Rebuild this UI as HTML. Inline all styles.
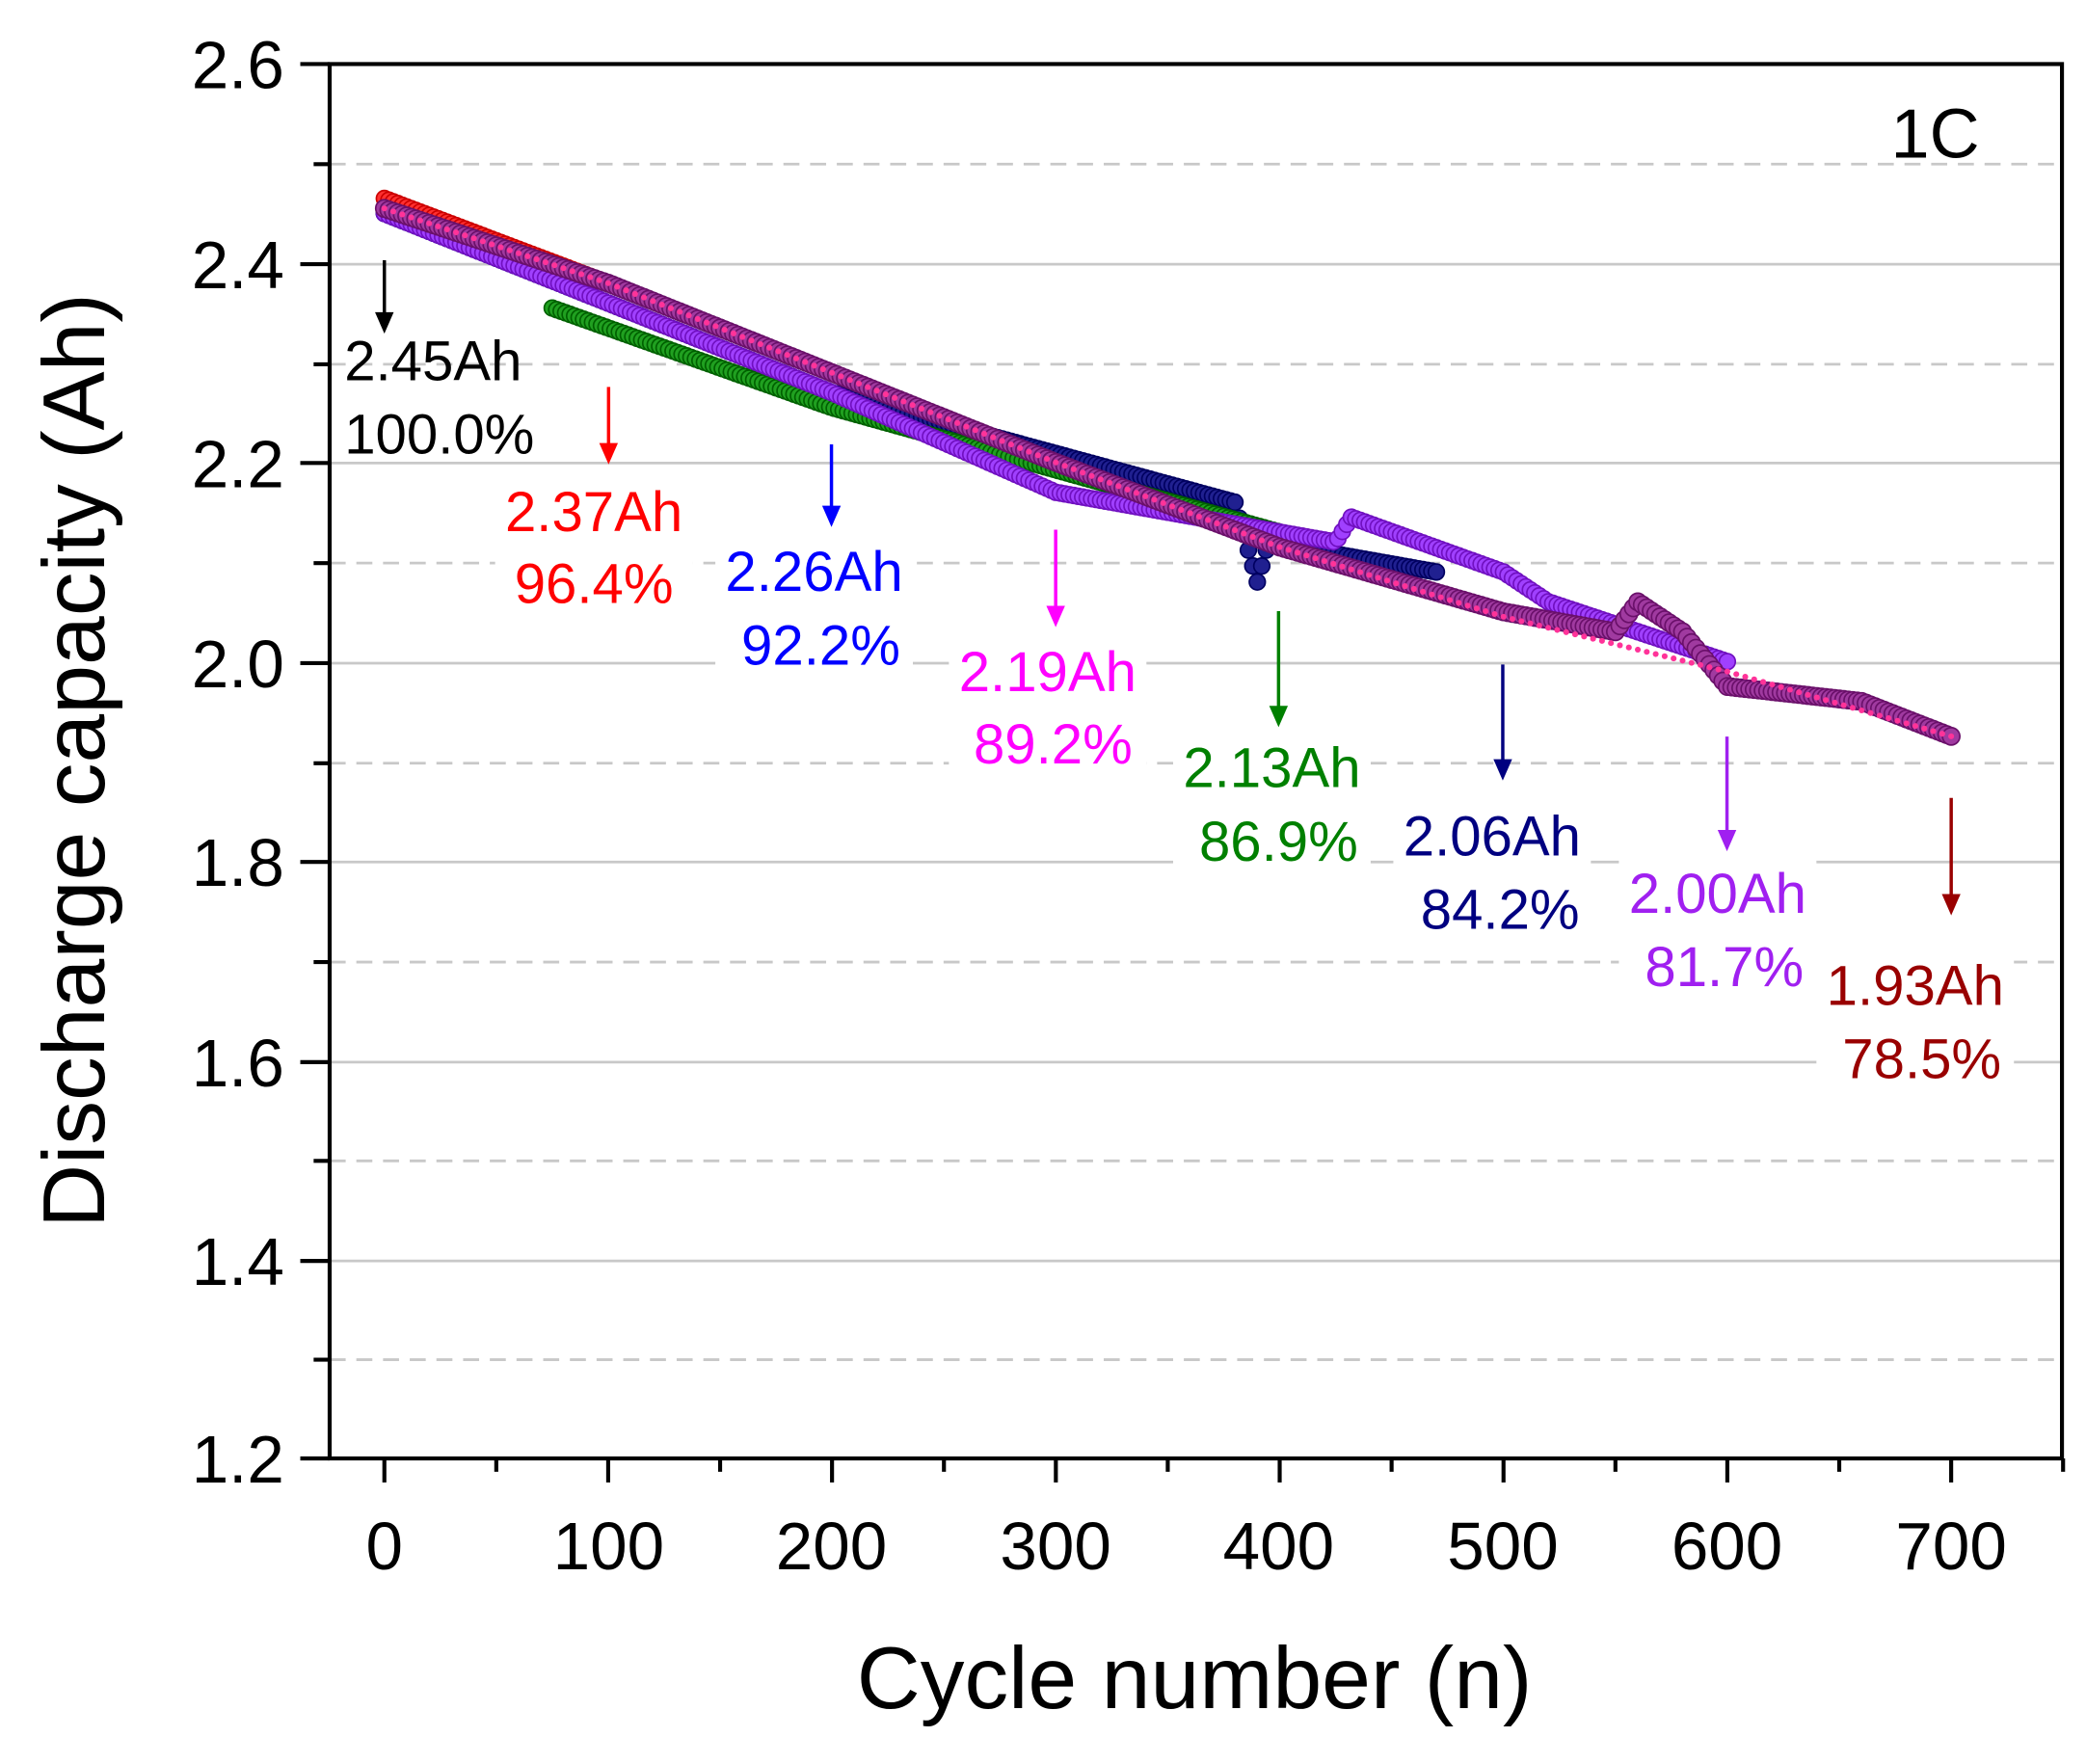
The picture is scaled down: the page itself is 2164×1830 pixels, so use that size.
<!DOCTYPE html>
<html><head><meta charset="utf-8"><style>
html,body{margin:0;padding:0;background:#fff;width:2164px;height:1830px;overflow:hidden}
svg{display:block}
text{font-family:"Liberation Sans",Arial,sans-serif}
</style></head><body>
<svg id="s" width="2164" height="1830" viewBox="0 0 1563 1322" preserveAspectRatio="none" xmlns="http://www.w3.org/2000/svg">
<g id="grid" stroke="#c8c8c8" stroke-width="2">
<line x1="247" x2="1545" y1="198" y2="198"/><line x1="247" x2="1545" y1="347" y2="347"/>
<line x1="247" x2="1545" y1="497" y2="497"/><line x1="247" x2="1545" y1="646" y2="646"/>
<line x1="247" x2="1545" y1="796" y2="796"/><line x1="247" x2="1545" y1="945" y2="945"/>
<g stroke-dasharray="12,8">
<line x1="247" x2="1545" y1="123" y2="123"/><line x1="247" x2="1545" y1="273" y2="273"/>
<line x1="247" x2="1545" y1="422" y2="422"/><line x1="247" x2="1545" y1="572" y2="572"/>
<line x1="247" x2="1545" y1="721" y2="721"/><line x1="247" x2="1545" y1="870" y2="870"/>
<line x1="247" x2="1545" y1="1019" y2="1019"/>
</g></g>
<g id="data"></g>
<g id="ann"></g>
<rect x="247" y="48" width="1298" height="1045" fill="none" stroke="#000" stroke-width="3"/>
<g stroke="#000" stroke-width="3">
<line x1="225" x2="247" y1="48" y2="48"/><line x1="225" x2="247" y1="198" y2="198"/>
<line x1="225" x2="247" y1="347" y2="347"/><line x1="225" x2="247" y1="497" y2="497"/>
<line x1="225" x2="247" y1="646" y2="646"/><line x1="225" x2="247" y1="796" y2="796"/>
<line x1="225" x2="247" y1="945" y2="945"/><line x1="225" x2="247" y1="1093" y2="1093"/>
<line x1="235" x2="247" y1="123" y2="123"/><line x1="235" x2="247" y1="273" y2="273"/>
<line x1="235" x2="247" y1="422" y2="422"/><line x1="235" x2="247" y1="572" y2="572"/>
<line x1="235" x2="247" y1="721" y2="721"/><line x1="235" x2="247" y1="870" y2="870"/>
<line x1="235" x2="247" y1="1019" y2="1019"/>
</g>
<g id="xt" stroke="#000" stroke-width="3"></g>
<g font-size="50" text-anchor="end" fill="#000">
<text x="213" y="66">2.6</text><text x="213" y="216">2.4</text><text x="213" y="365">2.2</text>
<text x="213" y="515">2.0</text><text x="213" y="664">1.8</text><text x="213" y="814">1.6</text>
<text x="213" y="963">1.4</text><text x="213" y="1111">1.2</text>
</g>
<g font-size="50" text-anchor="middle" fill="#000">
<text x="288" y="1176">0</text><text x="456" y="1176">100</text><text x="623" y="1176">200</text>
<text x="791" y="1176">300</text><text x="958" y="1176">400</text><text x="1126" y="1176">500</text>
<text x="1294" y="1176">600</text><text x="1462" y="1176">700</text>
</g>
<text x="895" y="1280" font-size="66" text-anchor="middle">Cycle number (n)</text>
<text transform="translate(78,570) rotate(-90)" font-size="66" text-anchor="middle">Discharge capacity (Ah)</text>
<text x="1450" y="118" font-size="52" text-anchor="middle">1C</text>
</svg>
<script>
var NS="http://www.w3.org/2000/svg";
function X(c){return 288+c*1.6771}
function Y(v){return 48+(2.6-v)*746.4}
function interp(p,c){for(var i=0;i<p.length-1;i++){if(c>=p[i][0]&&c<=p[i+1][0]){var t=(c-p[i][0])/(p[i+1][0]-p[i][0]);return p[i][1]+t*(p[i+1][1]-p[i][1]);}}return p[p.length-1][1];}
function el(n,a,parent){var e=document.createElementNS(NS,n);for(var k in a)e.setAttribute(k,a[k]);parent.appendChild(e);return e;}
var D=document.getElementById('data');
function series(p,c0,c1,fill,stroke,r,step){for(var c=c0;c<=c1;c+=step){el('circle',{cx:X(c),cy:Y(interp(p,c)),r:r,fill:fill,stroke:stroke,'stroke-width':1.2},D);}}
series([[0,2.465],[100,2.38]],0,100,'#ff3030','#cc0000',6,2);
series([[0,2.45],[100,2.36],[200,2.27]],0,200,'#3030ff','#0000aa',6,2);
series([[0,2.45],[100,2.36],[200,2.27],[380,2.16],[390,2.08],[395,2.12],[470,2.09]],0,470,'#202090','#000060',6,2);
series([[75,2.355],[200,2.255],[400,2.13]],75,400,'#20a020','#006000',6,2);
series([[0,2.45],[100,2.36],[200,2.27],[300,2.17],[425,2.12],[432,2.145],[500,2.09],[520,2.06],[600,2.0]],0,600,'#a040ff','#7010c0',6,2);
series([[0,2.455],[100,2.38],[200,2.29],[300,2.2],[400,2.115],[500,2.05],[550,2.03],[560,2.06],[580,2.03],[600,1.975],[660,1.96],[700,1.925]],0,700,'#a03aa0','#6a106a',6.5,2);
for(var c=0;c<=700;c+=4){el('circle',{cx:X(c),cy:Y(interp([[0,2.455],[100,2.38],[200,2.29],[300,2.2],[400,2.115],[500,2.045],[600,1.99],[700,1.925]],c)),r:2.2,fill:'#ff3399'},D);}
var XT=document.getElementById('xt');
for(var v=0;v<=750;v+=50){var big=v%100==0;el('line',{x1:X(v),x2:X(v),y1:1093,y2:1093+(big?18:10)},XT);}
var A=document.getElementById('ann');
var ann=[[288,195,250,'#000','2.45Ah','100.0%',330,285,340,'start',258],
[456,290,348,'#ff0000','2.37Ah','96.4%',445,398,452,'middle',445],
[623,333,395,'#0000ff','2.26Ah','92.2%',610,443,498,'middle',615],
[791,397,470,'#ff00ff','2.19Ah','89.2%',785,518,572,'middle',789],
[958,458,545,'#008000','2.13Ah','86.9%',953,590,645,'middle',958],
[1126,498,585,'#000080','2.06Ah','84.2%',1118,641,696,'middle',1124],
[1294,552,638,'#a020f0','2.00Ah','81.7%',1287,684,739,'middle',1292],
[1462,598,686,'#990000','1.93Ah','78.5%',1435,753,808,'middle',1440]];
ann.forEach(function(a){
 el('line',{x1:a[0],x2:a[0],y1:a[1],y2:a[2]-14,stroke:a[3],'stroke-width':2.5},A);
 el('polygon',{points:(a[0]-7)+','+(a[2]-16)+' '+(a[0]+7)+','+(a[2]-16)+' '+a[0]+','+a[2],fill:a[3]},A);
 if(a[9]=='middle'){el('rect',{x:a[6]-74,y:a[7]-40,width:148,height:a[8]-a[7]+52,fill:'#fff'},A);}
 var t1=el('text',{x:a[9]=='start'?258:a[6],y:a[7],'font-size':42,fill:a[3],'text-anchor':a[9]},A);t1.textContent=a[4];
 var t2=el('text',{x:a[9]=='start'?258:a[10],y:a[8],'font-size':42,fill:a[3],'text-anchor':a[9]},A);t2.textContent=a[5];
});
</script>
</body></html>
